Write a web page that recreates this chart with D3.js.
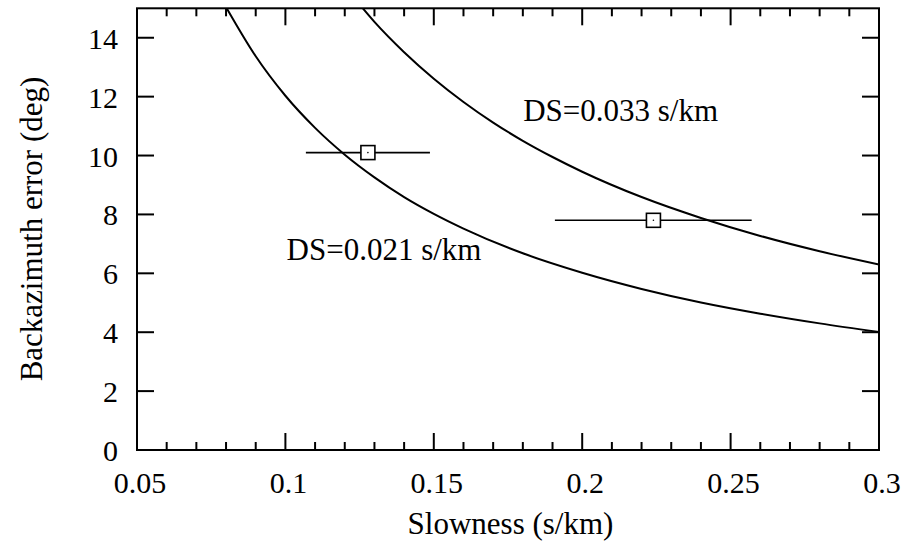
<!DOCTYPE html>
<html>
<head>
<meta charset="utf-8">
<script src="https://cdn.jsdelivr.net/npm/d3@7"></script>
<style>
  html, body { margin: 0; padding: 0; background: #fff; }
  svg { display: block; }
</style>
</head>
<body>
<svg id="chart" width="907" height="550"></svg>
<script>
// ---- data ----
const xTickValues = [0.05, 0.1, 0.15, 0.2, 0.25, 0.3];
const xTickLabels = ["0.05", "0.1", "0.15", "0.2", "0.25", "0.3"];
const yTickValues = [0, 2, 4, 6, 8, 10, 12, 14];
const yTickLabels = ["0", "2", "4", "6", "8", "10", "12", "14"];

// curve DS = 0.021 s/km
const lowerSlowness = [0.08, 0.09, 0.10, 0.11, 0.12, 0.13, 0.14, 0.15, 0.16, 0.18, 0.20, 0.22, 0.24, 0.26, 0.28, 0.30];
const lowerError    = [15.04, 13.37, 12.03, 10.94, 10.03, 9.26, 8.59, 8.02, 7.52, 6.68, 6.02, 5.47, 5.01, 4.63, 4.30, 4.01];
// curve DS = 0.033 s/km
const upperSlowness = [0.125, 0.13, 0.14, 0.15, 0.16, 0.17, 0.18, 0.19, 0.20, 0.22, 0.24, 0.26, 0.28, 0.30];
const upperError    = [15.13, 14.54, 13.51, 12.61, 11.82, 11.12, 10.50, 9.95, 9.45, 8.59, 7.88, 7.27, 6.75, 6.30];

// measured points with slowness error bars
const pointSlowness = [0.1278, 0.2240];
const pointError    = [10.10, 7.80];
const pointSlowLo   = [0.1069, 0.1908];
const pointSlowHi   = [0.1487, 0.2571];

const curveLabels = ["DS=0.021 s/km", "DS=0.033 s/km"];
const labelX = [0.1004, 0.1801];
const labelY = [6.45, 11.18];

// ---- layout ----
const svg = d3.select("#chart");
const pL = 137, pR = 879, pT = 8.3, pB = 450;
const x = d3.scaleLinear().domain([0.05, 0.3]).range([pL, pR]);
const y = d3.scaleLinear().domain([0, 15]).range([pB, pT]);

function txt(size) {
  return svg.append("text")
    .attr("font-family", "Liberation Serif")
    .attr("font-size", size)
    .attr("fill", "#000");
}

svg.append("defs").append("clipPath").attr("id", "clip")
  .append("rect").attr("x", pL).attr("y", pT).attr("width", pR - pL).attr("height", pB - pT);

const majorLen = 17, minorLen = 8;
const minorX = d3.range(0.06, 0.3, 0.01).filter(v => Math.abs(Math.round(v * 20) - v * 20) > 1e-6);

// ticks (inside)
const tickG = svg.append("g").attr("stroke", "#000").attr("stroke-width", 2);
xTickValues.forEach(v => {
  tickG.append("line").attr("x1", x(v)).attr("x2", x(v)).attr("y1", pB).attr("y2", pB - majorLen);
  tickG.append("line").attr("x1", x(v)).attr("x2", x(v)).attr("y1", pT).attr("y2", pT + majorLen);
});
minorX.forEach(v => {
  tickG.append("line").attr("x1", x(v)).attr("x2", x(v)).attr("y1", pB).attr("y2", pB - minorLen);
  tickG.append("line").attr("x1", x(v)).attr("x2", x(v)).attr("y1", pT).attr("y2", pT + minorLen);
});
yTickValues.forEach(v => {
  if (v === 0) return;
  tickG.append("line").attr("x1", pL).attr("x2", pL + majorLen).attr("y1", y(v)).attr("y2", y(v));
  tickG.append("line").attr("x1", pR).attr("x2", pR - majorLen).attr("y1", y(v)).attr("y2", y(v));
});

// tick labels
xTickValues.forEach((v, i) => {
  txt(30).attr("x", x(v) + 3).attr("y", 493).attr("text-anchor", "middle").text(xTickLabels[i]);
});
yTickValues.forEach((v, i) => {
  txt(30).attr("x", 118).attr("y", y(v) + 11).attr("text-anchor", "end").text(yTickLabels[i]);
});

// axis titles
txt(31).attr("x", 510.5).attr("y", 534).attr("text-anchor", "middle").text("Slowness (s/km)");
txt(31).attr("transform", "translate(41.5,229) rotate(-90)")
  .attr("text-anchor", "middle").text("Backazimuth error (deg)");

// curves
const line = d3.line().x(d => x(d[0])).y(d => y(d[1])).curve(d3.curveMonotoneX);
const plotG = svg.append("g").attr("clip-path", "url(#clip)");
[[lowerSlowness, lowerError], [upperSlowness, upperError]].forEach(([xs, ys]) => {
  plotG.append("path").datum(xs.map((v, i) => [v, ys[i]]))
    .attr("d", line).attr("fill", "none").attr("stroke", "#000").attr("stroke-width", 2);
});

// error bars and points
pointSlowness.forEach((v, i) => {
  svg.append("line").attr("x1", x(pointSlowLo[i])).attr("x2", x(pointSlowHi[i]))
    .attr("y1", y(pointError[i])).attr("y2", y(pointError[i]))
    .attr("stroke", "#000").attr("stroke-width", 1.6);
  svg.append("rect").attr("x", x(v) - 7).attr("y", y(pointError[i]) - 7)
    .attr("width", 14).attr("height", 14)
    .attr("fill", "#fff").attr("stroke", "#000").attr("stroke-width", 1.6);
  svg.append("circle").attr("cx", x(v)).attr("cy", y(pointError[i])).attr("r", 0.8).attr("fill", "#000");
});

// curve labels
curveLabels.forEach((t, i) => {
  txt(31).attr("x", x(labelX[i])).attr("y", y(labelY[i])).text(t);
});

// frame
svg.append("rect").attr("x", pL).attr("y", pT).attr("width", pR - pL).attr("height", pB - pT)
  .attr("fill", "none").attr("stroke", "#000").attr("stroke-width", 2);
</script>
</body>
</html>
